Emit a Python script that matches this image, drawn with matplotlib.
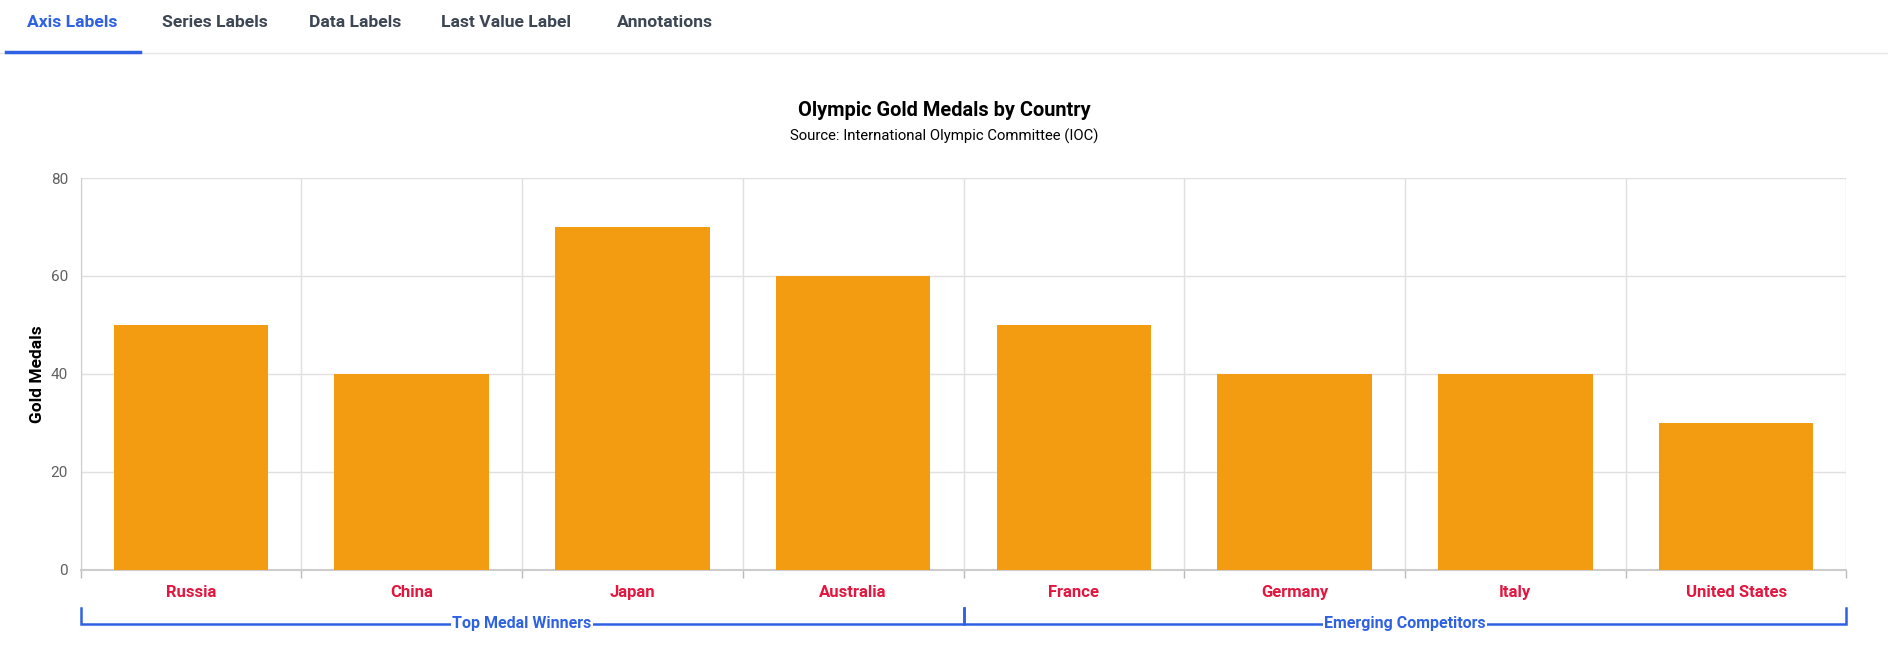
import matplotlib
matplotlib.use("Agg")
import matplotlib.pyplot as plt
import matplotlib.transforms as mtransforms
import numpy as np

plt.rcParams['font.family'] = ['Roboto', 'DejaVu Sans']

# Datos del gráfico
countries = ["Russia", "China", "Japan", "Australia", "France", "Germany", "Italy", "United States"]
gold_medals = [50, 40, 70, 60, 50, 40, 40, 30]
groups = ["Top Medal Winners", "Emerging Competitors"]
group_sizes = [4, 4]
y_ticks = [0, 20, 40, 60, 80]
tabs = ["Axis Labels", "Series Labels", "Data Labels", "Last Value Label", "Annotations"]

bar_color = "#F39C12"
label_color = "#E3163F"
blue = "#2F62E3"

fig = plt.figure(figsize=(18.88, 6.67), dpi=100)
ax = fig.add_axes([0.0427, 0.146, 0.9353, 0.587])

x = np.arange(len(countries))
ax.bar(x, gold_medals, width=0.7, color=bar_color, zorder=3)

ax.set_xlim(-0.5, len(countries) - 0.5)
ax.set_ylim(0, 80)
ax.set_yticks(y_ticks)
ax.tick_params(axis='y', length=0, labelsize=11, labelcolor="#5f5f5f", pad=9)

ax.set_xticks(x)
ax.set_xticklabels(countries, color=label_color, fontweight='bold', fontsize=12)
ax.tick_params(axis='x', which='major', length=0, pad=11)
ax.set_xticks(np.arange(-0.5, len(countries), 1), minor=True)
ax.tick_params(axis='x', which='minor', length=6, color="#bbbbbb", width=1)

ax.grid(axis='y', color="#e0e0e0", linewidth=1, zorder=0)
ax.grid(axis='x', which='minor', color="#e0e0e0", linewidth=1, zorder=0)

for s in ["top", "right"]:
    ax.spines[s].set_visible(False)
ax.spines["left"].set_color("#cccccc")
ax.spines["bottom"].set_color("#cccccc")
ax.spines["bottom"].set_linewidth(1.5)

ax.set_ylabel("Gold Medals", fontsize=12.5, fontweight='bold', labelpad=4)

# Título y subtítulo
fig.text(0.5, 0.834, "Olympic Gold Medals by Country", ha='center', va='center',
         fontsize=14.4, fontweight='bold')
fig.text(0.5, 0.796, "Source: International Olympic Committee (IOC)", ha='center', va='center',
         fontsize=10.7)

# Corchetes de grupos
trans = mtransforms.blended_transform_factory(ax.transData, fig.transFigure)
y_line = 0.065
y_top = 0.089
start = -0.5
for name, size in zip(groups, group_sizes):
    end = start + size
    ax.plot([start, start, end, end], [y_top, y_line, y_line, y_top], transform=trans,
            color=blue, linewidth=1.8, clip_on=False, solid_joinstyle='miter')
    ax.text((start + end) / 2, y_line, name, transform=trans, ha='center', va='center',
            color=blue, fontsize=11.5, fontweight='bold',
            bbox=dict(facecolor='white', edgecolor='none', pad=1))
    start = end

# Pestañas de arriba
tab_x = [72, 215, 355, 506, 665]
for i, (t, tx) in enumerate(zip(tabs, tab_x)):
    fig.text(tx / 1888, 0.967, t, ha='center', va='center', fontsize=12.6, fontweight='bold',
             color=blue if i == 0 else "#3d4654")
fig.add_artist(plt.Line2D([0, 1], [0.921, 0.921], transform=fig.transFigure,
                          color="#e6e6e6", linewidth=1))
fig.add_artist(plt.Line2D([6 / 1888, 140 / 1888], [0.922, 0.922], transform=fig.transFigure,
                          color=blue, linewidth=2.5))

fig.savefig("out.png", dpi=100)
